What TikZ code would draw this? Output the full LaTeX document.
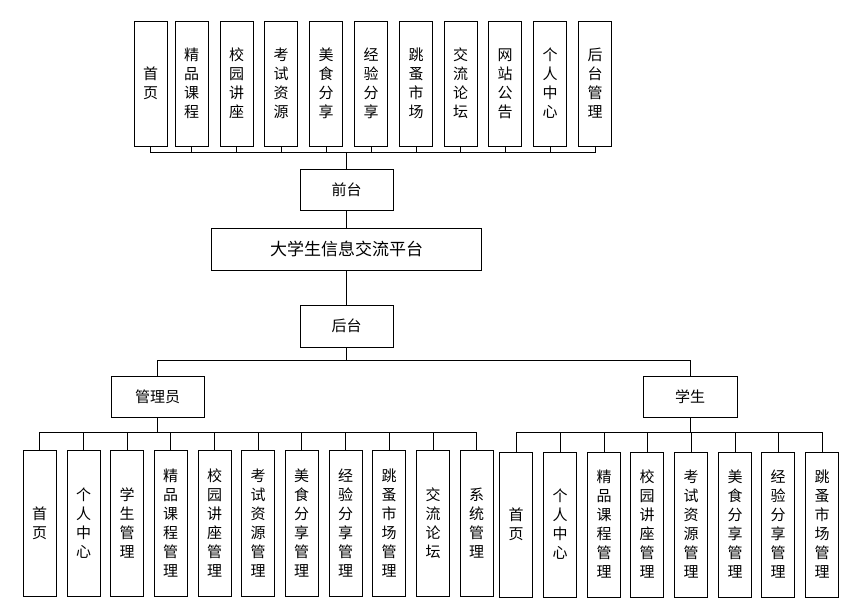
\documentclass[tikz,border=0pt]{standalone}
\usepackage{fontspec}
\newfontfamily\cjk{Noto Sans CJK SC}
\begin{document}
\begin{tikzpicture}[x=1pt,y=-1pt,
    box/.style={draw,line width=0.8pt,inner sep=0pt,align=center,font=\cjk\fontsize{15}{19}\selectfont},
    col/.style={box,minimum width=33pt}]
            \useasboundingbox (0,0) rectangle (863,604);

            % front end
            \foreach \x/\t [count=\i] in {150.5/首\\页, 191.5/精\\品\\课\\程, 236.5/校\\园\\讲\\座, 281/考\\试\\资\\源, 326/美\\食\\分\\享, 371/经\\验\\分\\享, 416/跳\\蚤\\市\\场, 460.5/交\\流\\论\\坛, 505/网\\站\\公\\告, 550/个\\人\\中\\心, 595/后\\台\\管\\理}
                \node[col,minimum height=125pt] (t\i) at (\x,83.5) {\t};
            \node[box,minimum width=93pt,minimum height=41pt] (qiantai) at (346.5,189.5) {前台};
            \node[box,minimum width=270pt,minimum height=42pt,font=\cjk\fontsize{17}{20}\selectfont] (pingtai) at (346.5,249) {大学生信息交流平台};
            \node[box,minimum width=93pt,minimum height=42pt] (houtai) at (346.5,326) {后台};
            \foreach \i in {1,...,11}
                \draw[line width=0.8pt] (qiantai.north) -- ++(0,-16) -| (t\i.south);
            \draw[line width=0.8pt] (qiantai) to (pingtai);
            \draw[line width=0.8pt] (pingtai) to (houtai);

            % back end
            \node[box,minimum width=93pt,minimum height=41pt] (admin) at (157.5,396.5) {管理员};
            \node[box,minimum width=94pt,minimum height=41pt] (student) at (690,396.5) {学生};
            \draw[line width=0.8pt] (houtai.south) -- ++(0,13) -| (admin.north);
            \draw[line width=0.8pt] (houtai.south) -- ++(0,13) -| (student.north);

            \foreach \x/\t [count=\i] in {39.5/首\\页, 83.5/个\\人\\中\\心, 127/学\\生\\管\\理, 170.5/精\\品\\课\\程\\管\\理, 214.5/校\\园\\讲\\座\\管\\理, 258/考\\试\\资\\源\\管\\理, 301.5/美\\食\\分\\享\\管\\理, 345.5/经\\验\\分\\享\\管\\理, 389/跳\\蚤\\市\\场\\管\\理, 433/交\\流\\论\\坛, 476.5/系\\统\\管\\理}
            {
                \node[col,minimum height=146pt] (a\i) at (\x,523) {\t};
                \draw[line width=0.8pt] (admin.south) -- ++(0,15) -| (a\i.north);
            }
            \foreach \x/\t [count=\i] in {516/首\\页, 560/个\\人\\中\\心, 604/精\\品\\课\\程\\管\\理, 647/校\\园\\讲\\座\\管\\理, 691/考\\试\\资\\源\\管\\理, 735/美\\食\\分\\享\\管\\理, 778/经\\验\\分\\享\\管\\理, 822/跳\\蚤\\市\\场\\管\\理}
            {
                \node[col,minimum height=145pt] (s\i) at (\x,524.5) {\t};
                \draw[line width=0.8pt] (student.south) -- ++(0,15) -| (s\i.north);
            }
        \end{tikzpicture}
\end{document}
